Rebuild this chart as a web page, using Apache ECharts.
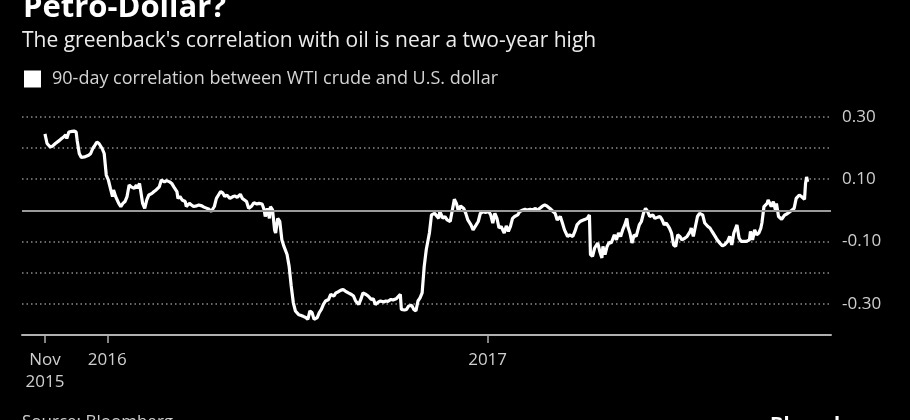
<!DOCTYPE html>
<html><head><meta charset="utf-8">
<script src="https://cdn.jsdelivr.net/npm/echarts@6/dist/echarts.min.js"></script>
<style>html,body{margin:0;padding:0;background:#000}#c{width:910px;height:420px}</style>
</head><body><div id="c"></div>
<script>
const titleText = 'Petro-Dollar?';
const subtitleText = "The greenback's correlation with oil is near a two-year high";
const seriesName = '90-day correlation between WTI crude and U.S. dollar';
const sourceText = 'Source: Bloomberg';
const brandText = 'Bloomberg';
const startDate = '2015-11-02';
// [days since startDate, correlation]
const corrPoints = [
[0,.245],[2,.214],[5,.203],[7,.205],[10,.214],[11,.219],[14,.224],[16,.230],[18,.235],[20,.242],[21,.230],[23,.251],[26,.253],[28,.254],[30,.251],[31,.224],[33,.182],[35,.169],[38,.171],[42,.176],[44,.182],[46,.198],[48,.208],[50,.219],[52,.214],[55,.198],[57,.182],[59,.113],[61,.097],[63,.070],[65,.044],[66,.065],[68,.044],[71,.022],[73,.012],[75,.022],[77,.028],[79,.044],[81,.081],[83,.075],[86,.070],[88,.081],[89,.070],[91,.086],[92,.065],[94,.022],[96,.006],[98,.033],[100,.049],[103,.054],[105,.060],[107,.065],[110,.075],[112,.097],[115,.091],[117,.095],[120,.091],[122,.086],[124,.075],[127,.060],[128,.038],[130,.044],[132,.033],[135,.028],[136,.012],[139,.022],[141,.017],[143,.012],[146,.014],[148,.017],[151,.014],[153,.010],[156,.006],[158,.003],[160,-.004],[163,.012],[165,.038],[167,.049],[169,.060],[171,.056],[173,.044],[175,.049],[178,.038],[181,.044],[183,.046],[185,.041],
[188,.051],[190,.038],[192,.033],[194,.028],[196,.006],[199,.014],[201,.024],[204,.020],[206,.022],[209,.020],[211,.001],[212,-.020],[214,.006],[216,-.026],[217,.012],[219,.001],[221,-.063],[222,-.073],[224,-.026],[226,-.036],[228,-.095],[230,-.116],[233,-.142],[235,-.180],[237,-.243],[239,-.296],[241,-.323],[244,-.334],[246,-.337],[249,-.341],[251,-.344],[253,-.350],[255,-.323],[257,-.328],[259,-.350],[262,-.344],[264,-.328],[266,-.318],[268,-.302],[270,-.291],[273,-.286],[275,-.270],[278,-.275],[280,-.265],[282,-.262],[285,-.256],[287,-.254],[289,-.259],[292,-.265],[295,-.270],[297,-.275],[299,-.291],[302,-.302],[304,-.286],[306,-.265],[309,-.270],[311,-.275],[314,-.286],[316,-.284],[318,-.302],[321,-.294],[323,-.291],[326,-.294],[328,-.291],[330,-.292],[333,-.286],[335,-.288],[338,-.284],[340,-.277],[342,-.270],[343,-.318],[346,-.320],[348,-.318],[350,-.307],[353,-.305],[355,-.318],[357,-.323],[359,-.291],[361,-.281],[363,-.265],[365,-.180],[367,-.126],[370,-.073],[372,-.015],[375,-.010],
[379,-.026],[380,-.004],[383,-.026],[385,-.020],[387,-.031],[390,-.036],[391,-.039],[394,.035],[396,.022],[398,-.004],[400,.014],[403,.006],[405,-.010],[407,-.031],[410,-.047],[412,-.063],[415,-.047],[417,-.036],[419,-.010],[422,-.004],[424,-.007],[427,-.004],[429,-.015],[431,-.041],[433,-.010],[435,-.026],[437,-.057],[439,-.052],[442,-.073],[444,-.050],[446,-.068],[448,-.052],[450,-.026],[452,-.020],[455,-.015],[457,-.004],[460,.001],[462,.003],[464,.001],[467,.003],[469,.001],[472,.006],[474,-.001],[476,.006],[479,.014],[481,.017],[483,.014],[486,.006],[489,-.004],[491,-.010],[493,-.031],[496,-.020],[498,-.041],[500,-.063],[503,-.084],[505,-.079],[508,-.084],[510,-.068],[512,-.047],[515,-.036],[517,-.033],[520,-.029],[522,-.026],[524,-.015],[525,-.142],[527,-.148],[529,-.121],[532,-.105],[534,-.132],[536,-.153],[537,-.116],[539,-.142],[541,-.116],[543,-.103],[545,-.105],[548,-.079],[550,-.095],[552,-.073],[554,-.084],[556,-.063],[558,-.047],[560,-.026],
[561,-.052],[563,-.073],[565,-.105],[567,-.079],[569,-.084],[572,-.047],[574,-.036],[576,-.010],[578,.006],[580,-.004],[582,-.020],[585,-.015],[587,-.026],[590,-.022],[592,-.020],[594,-.031],[596,-.047],[598,-.041],[601,-.057],[603,-.073],[605,-.111],[607,-.116],[609,-.079],[611,-.084],[613,-.095],[616,-.089],[618,-.084],[621,-.068],[622,-.057],[624,-.084],[626,-.052],[628,-.020],[630,-.010],[633,-.015],[635,-.041],[638,-.052],[640,-.057],[642,-.068],[645,-.084],[647,-.095],[650,-.107],[652,-.114],[654,-.111],[657,-.100],[659,-.084],[661,-.111],[663,-.073],[666,-.047],[668,-.089],[670,-.100],[673,-.100],[675,-.100],[678,-.095],[679,-.068],[681,-.095],[683,-.063],[685,-.079],[687,-.073],[689,-.057],[690,-.041],[692,.012],[695,.022],[696,.033],[699,.012],[701,.028],[703,.001],[704,.022],[706,-.020],[709,-.029],[712,-.015],[714,-.012],[716,-.007],[719,.001],[721,.006],[723,.038],[726,.049],[728,.044],[731,.035],[732,.086],[733,.107],[734,.091]
];
const xTickDates = ['2015-11-02', '2016-01-01', '2017-01-01'];
const xTickLabels = ['Nov\n2015', '2016', '2017'];
const yLabelValues = [0.30, 0.10, -0.10, -0.30];

const DAY = 86400000;
const toTs = d => Date.parse(d + 'T00:00:00Z');
const t0 = toTs(startDate);
const lineData = corrPoints.map(p => [t0 + p[0] * DAY, p[1]]);
const tickTs = xTickDates.map(toTs);
const FONT = '"Open Sans", "Noto Sans", sans-serif';

const chart = echarts.init(document.getElementById('c'), null, {renderer: 'canvas'});
chart.setOption({
  backgroundColor: '#000',
  animation: false,
  grid: {left: 22, right: 79, top: 116.7, bottom: 85},
  legend: {
    data: [seriesName], left: 24, top: 70, padding: 0,
    icon: 'rect', itemWidth: 17, itemHeight: 17,
    textStyle: {color: '#d4d4d4', fontSize: 18, fontFamily: FONT, padding: [0, 0, 0, 6]}
  },
  xAxis: {
    type: 'value', scale: true, position: 'bottom',
    min: t0 - 22.1 * DAY, max: t0 + 756.5 * DAY,
    axisLine: {onZero: false, lineStyle: {color: '#b0b0b0', width: 2}},
    axisTick: {show: true, inside: false, customValues: tickTs, length: 8, lineStyle: {color: '#b0b0b0', width: 1.5}},
    axisLabel: {
      customValues: tickTs, color: '#cfcfcf', fontSize: 17, fontFamily: FONT, lineHeight: 22, margin: 14,
      formatter: v => { const i = tickTs.findIndex(t => Math.abs(t - v) < DAY / 2); return i >= 0 ? xTickLabels[i] : ''; }
    },
    splitLine: {show: false}
  },
  yAxis: {
    type: 'value', position: 'right', min: -0.4, max: 0.3, interval: 0.1,
    axisLine: {show: false}, axisTick: {show: false},
    axisLabel: {
      color: '#cfcfcf', fontSize: 17, fontFamily: FONT, margin: 11,
      formatter: v => yLabelValues.some(t => Math.abs(t - v) < 1e-6) ? v.toFixed(2) : ''
    },
    splitLine: {lineStyle: {color: '#8c8c8c', width: 1.5, type: [1.5, 3]}}
  },
  graphic: [
    {type: 'text', x: 23, y: 8, style: {text: titleText, fill: '#fff', font: 'bold 31px ' + FONT, verticalAlign: 'middle'}},
    {type: 'text', x: 22, y: 41.5, style: {text: subtitleText, fill: '#ececec', font: '21px ' + FONT, verticalAlign: 'middle'}},
    {type: 'text', x: 22, y: 422, style: {text: sourceText, fill: '#cfcfcf', font: '17px ' + FONT, verticalAlign: 'middle'}},
    {type: 'text', x: 770, y: 425, style: {text: brandText, fill: '#fff', font: 'bold 20px ' + FONT, verticalAlign: 'middle'}}
  ],
  series: [
    {
      name: 'zero', type: 'line', data: [], z: 1, silent: true,
      markLine: {silent: true, symbol: 'none', label: {show: false},
        lineStyle: {color: '#9a9a9a', width: 2, type: 'solid'}, data: [{yAxis: 0}]}
    },
    {
      name: seriesName, type: 'line', data: lineData, z: 3, showSymbol: false, symbol: 'none',
      lineStyle: {color: '#fff', width: 3.2}, itemStyle: {color: '#fff'}
    }
  ]
});
</script></body></html>
